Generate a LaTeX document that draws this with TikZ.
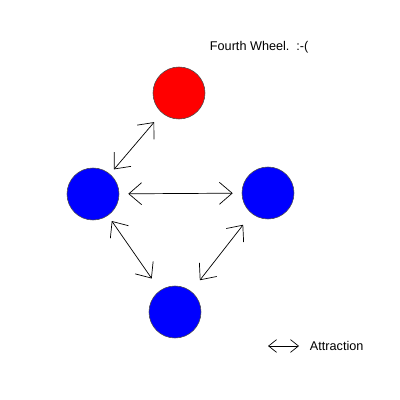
\documentclass[tikz,border=0pt]{standalone}
\usepackage{fontspec}
\setmainfont{Liberation Sans}
\usetikzlibrary{arrows.meta}
\tikzset{every node/.append style={font=\fontsize{9}{11}\selectfont}}
\tikzset{ball/.style={circle, draw=black!70, line width=0.4pt, minimum size=13mm, inner sep=0pt}}
\tikzset{pull/.style={line width=0.5pt, {Straight Barb[length=3.2mm,width=5.5mm]}-{Straight Barb[length=3.2mm,width=5.5mm]}}}

\begin{document}
\begin{tikzpicture}[x=0.025cm, y=-0.025cm]
    \useasboundingbox (0,0) rectangle (400,400);
    \node[ball, fill=red] (wheel) at (179,93) {};
    \node[ball, fill=blue] (lft) at (93,194) {};
    \node[ball, fill=blue] (rgt) at (268,193) {};
    \node[ball, fill=blue] (bot) at (175,312) {};
    \node[anchor=west] (title) at (205,47) {Fourth Wheel.\ \ :-(};
    \draw[pull, shorten <=4.3pt, shorten >=8.5pt] (lft) -- (wheel);
    \draw[pull, shorten <=6.4pt, shorten >=6.4pt] (lft) -- (rgt);
    \draw[pull, shorten <=4.7pt, shorten >=10.3pt] (lft) -- (bot);
    \draw[pull, shorten <=10pt, shorten >=10pt] (rgt) -- (bot);
    % legend
    \coordinate (keyA) at (268,346);
    \coordinate (keyB) at (299,346);
    \draw[line width=0.5pt, {Straight Barb[length=2mm,width=3.2mm]}-{Straight Barb[length=2mm,width=3.2mm]}] (keyA) -- (keyB);
    \node[anchor=west] (key) at (305,346) {Attraction};
\end{tikzpicture}
\end{document}
